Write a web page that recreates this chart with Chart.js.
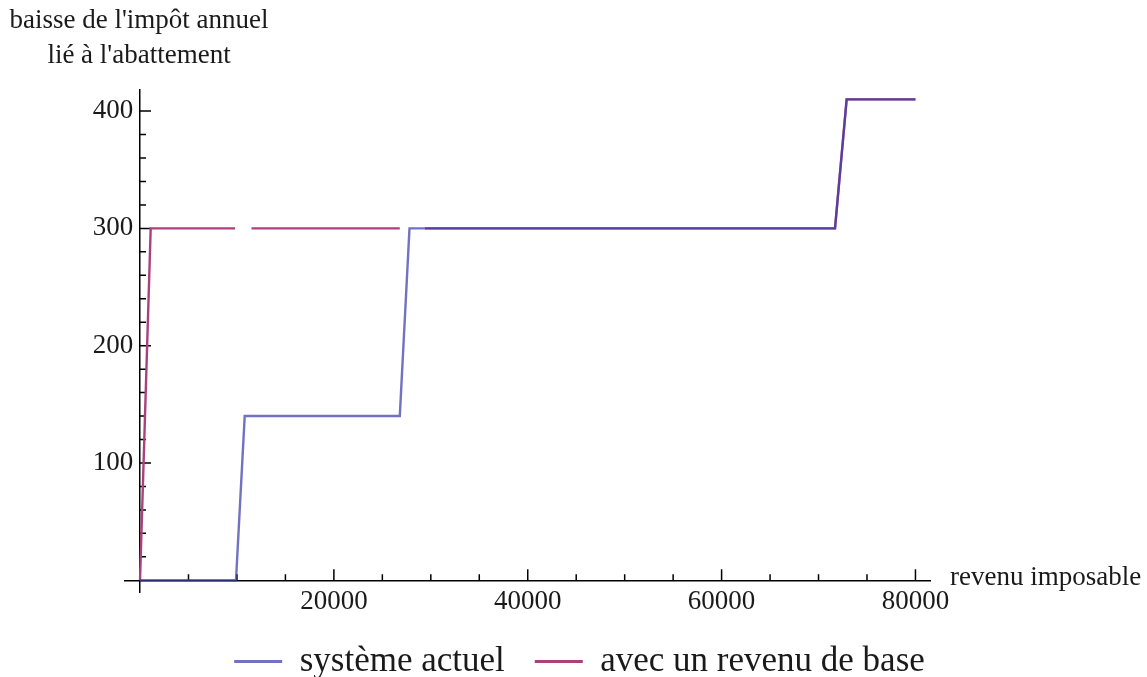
<!DOCTYPE html>
<html><head><meta charset="utf-8">
<script src="https://cdn.jsdelivr.net/npm/chart.js@4"></script>
<style>html,body{margin:0;padding:0;background:#fff}#wrap{width:1147px;height:677px;position:relative}</style>
</head><body><div id="wrap"><canvas id="c"></canvas></div>
<script>
const seriesNames = ['système actuel', 'avec un revenu de base'];
const actuelIncome = [0, 9900, 10800, 26800, 27800, 71700, 72900, 80000];
const actuelDrop   = [0, 0, 140, 140, 300, 300, 410, 410];
const baseIncome = [0, 1100, 9800, 9800, 11500, 26800, 26800, 29400, 71700, 72900, 80000];
const baseDrop   = [0, 300, 300, null, 300, 300, null, 300, 300, 410, 410];
const xTickValues = [20000, 40000, 60000, 80000];
const yTickValues = [100, 200, 300, 400];
const xMinorStep = 5000, yMinorStep = 20;
const yTitleLines = ["baisse de l'impôt annuel", "lié à l'abattement"];
const xTitle = 'revenu imposable';

const FAMILY = '"Liberation Serif", "Times New Roman", serif';
const TEXT = '#1a1a1a';
const BLUE = 'rgba(60,60,170,0.72)';
const PINK = 'rgb(170,65,125)';

const decor = {
  id: 'decor',
  afterLayout(chart) {
    const lg = chart.legend;
    if (lg) { lg.left = 12; lg.right = chart.width; lg.width = chart.width - 12; }
  },
  beforeDatasetsDraw(chart) {
    const {ctx, scales: {x, y}, chartArea} = chart;
    const x0 = x.getPixelForValue(0), y0 = y.getPixelForValue(0);
    ctx.save();
    ctx.strokeStyle = '#000'; ctx.lineWidth = 1.5;
    ctx.beginPath();
    for (let v = xMinorStep; v <= x.max; v += xMinorStep) {
      const px = x.getPixelForValue(v);
      const len = xTickValues.includes(v) ? 11 : 6;
      ctx.moveTo(px, y0); ctx.lineTo(px, y0 - len);
    }
    for (let v = yMinorStep; v <= y.max; v += yMinorStep) {
      const py = y.getPixelForValue(v);
      const len = yTickValues.includes(v) ? 11 : 6;
      ctx.moveTo(x0, py); ctx.lineTo(x0 + len, py);
    }
    ctx.stroke();
    ctx.fillStyle = TEXT;
    ctx.font = '27px ' + FAMILY;
    ctx.textAlign = 'center'; ctx.textBaseline = 'alphabetic';
    ctx.fillText(yTitleLines[0], x0 - 1, chartArea.top - 62);
    ctx.fillText(yTitleLines[1], x0 - 1, chartArea.top - 27);
    ctx.textAlign = 'left';
    ctx.fillText(xTitle, chartArea.right + 20, y0 + 5);
    ctx.restore();
  }
};

const toPts = (xs, ys) => xs.map((x, i) => ({x, y: ys[i]}));

new Chart(document.getElementById('c'), {
  type: 'line',
  data: {
    datasets: [
      {label: seriesNames[0], data: toPts(actuelIncome, actuelDrop), borderColor: BLUE, backgroundColor: BLUE,
       borderWidth: 2.4, pointRadius: 0, tension: 0, spanGaps: false},
      {label: seriesNames[1], data: toPts(baseIncome, baseDrop), borderColor: PINK, backgroundColor: PINK,
       borderWidth: 2.4, pointRadius: 0, tension: 0, spanGaps: false}
    ]
  },
  options: {
    responsive: true, maintainAspectRatio: false, animation: false,
    events: [],
    layout: {padding: {left: 125, right: 217, top: 90, bottom: -12}},
    scales: {
      x: {
        type: 'linear', min: -1550, max: 81500, position: {y: 0},
        grid: {display: true, drawOnChartArea: false, drawTicks: false},
        border: {display: true, color: '#000', width: 1.5},
        afterBuildTicks: s => { s.ticks = xTickValues.map(v => ({value: v})); },
        ticks: {callback: v => String(v), padding: 5, font: {size: 27, family: FAMILY}, color: TEXT,
                maxRotation: 0, autoSkip: false}
      },
      y: {
        type: 'linear', min: -10, max: 418, position: {x: 0},
        grid: {display: true, drawOnChartArea: false, drawTicks: false},
        border: {display: true, color: '#000', width: 1.5},
        afterBuildTicks: s => { s.ticks = yTickValues.map(v => ({value: v})); },
        ticks: {callback: v => String(v) + ' ', padding: 8, font: {size: 27, family: FAMILY}, color: TEXT, autoSkip: false}
      }
    },
    plugins: {
      tooltip: {enabled: false},
      legend: {
        position: 'bottom',
        title: {display: true, text: ' ', font: {size: 10}, padding: 5},
        labels: {
          font: {size: 35, family: FAMILY}, color: TEXT,
          boxWidth: 48, boxHeight: 3, padding: 30,
          generateLabels(chart) {
            return Chart.defaults.plugins.legend.labels.generateLabels(chart).map(l => ({...l, lineWidth: 0}));
          }
        }
      }
    }
  },
  plugins: [decor]
});
</script></body></html>
